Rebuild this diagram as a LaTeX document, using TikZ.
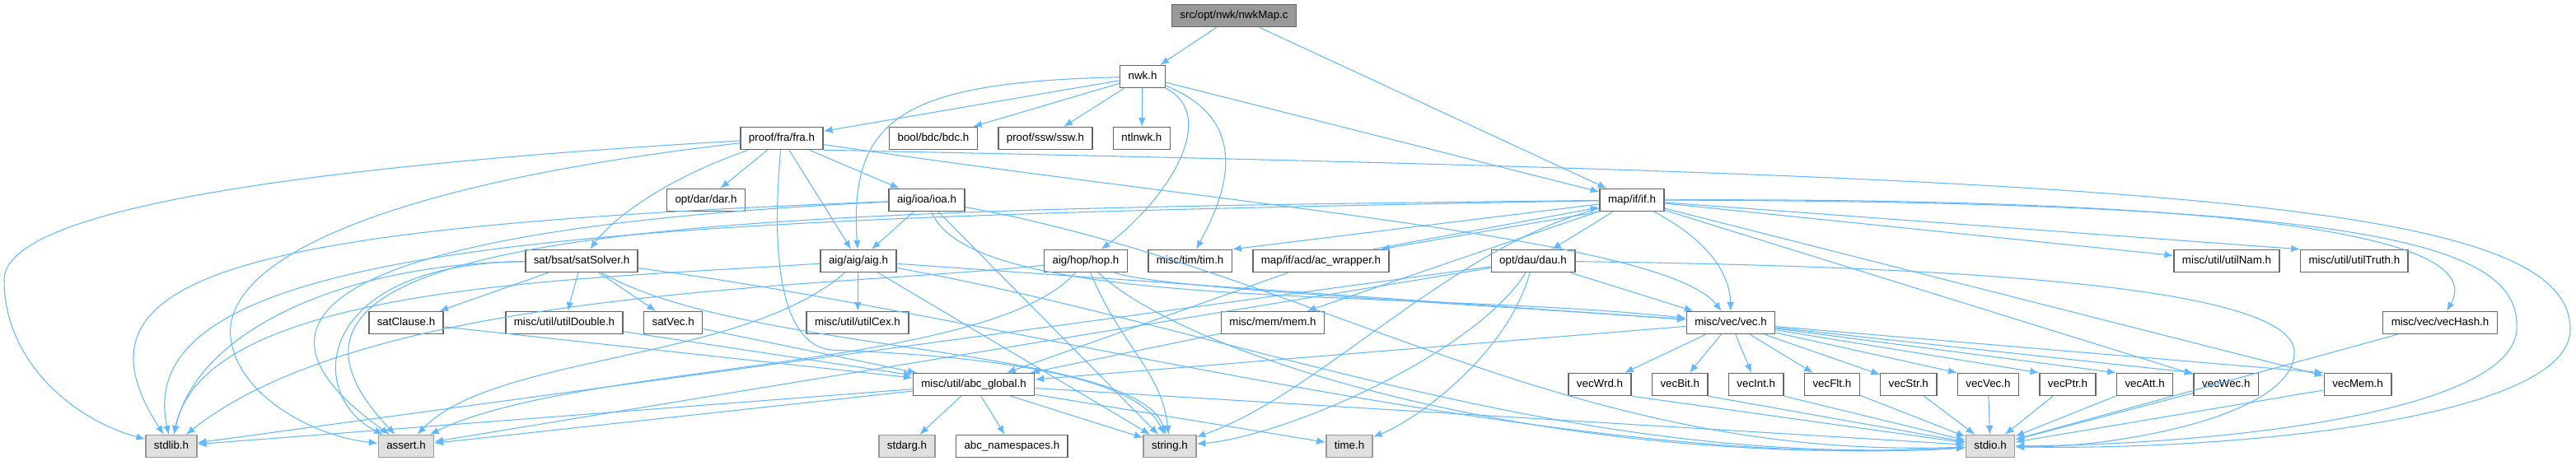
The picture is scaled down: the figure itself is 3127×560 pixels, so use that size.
\documentclass[tikz,border=0pt]{standalone}
\usepackage{xcolor}
\usepackage{fontspec}
\setmainfont{Liberation Sans}
\usepackage{tikz}
\usetikzlibrary{arrows.meta, positioning}
\definecolor{edgeblue}{HTML}{63B8FF}
\definecolor{boxline}{HTML}{666666}
\definecolor{sysline}{HTML}{999999}
\definecolor{sysgray}{HTML}{E0E0E0}
\definecolor{rootgray}{HTML}{999999}
\tikzstyle{file} = [rectangle, draw=boxline, line width=1.1pt, fill=white,
    minimum height=20.25pt, inner xsep=7.5pt, inner ysep=0pt, text height=7pt, text depth=2pt]
\tikzstyle{sysfile} = [file, draw=sysline, fill=sysgray]
\tikzstyle{rootfile} = [file, fill=rootgray]
\tikzstyle{line} = [draw=edgeblue, line width=0.8pt, -{Latex[length=8pt, width=6.5pt]}]

\begin{document}
\begin{tikzpicture}[x=0.75pt, y=-0.75pt, node distance = 18pt]
      \useasboundingbox (0,0) rectangle (3127,560);
      % Files
      \node [rootfile] (nwk-map) at (1498,19) {src/opt/nwk/nwkMap.c};
      \node [file] (nwk) at (1387,93) {nwk.h};
      \node [file] (fra) at (949,168) {proof/fra/fra.h};
      \node [file] (bdc) at (1133,168) {bool/bdc/bdc.h};
      \node [file, right=of bdc] (ssw) {proof/ssw/ssw.h};
      \node [file, right=of ssw] (ntlnwk) {ntlnwk.h};
      \node [file] (dar) at (857,243) {opt/dar/dar.h};
      \node [file] (ioa) at (1125,243) {aig/ioa/ioa.h};
      \node [file] (map-if) at (1981,243) {map/if/if.h};
      \node [file] (sat-solver) at (706,317) {sat/bsat/satSolver.h};
      \node [file] (aig) at (1042,317) {aig/aig/aig.h};
      \node [file] (hop) at (1318,317) {aig/hop/hop.h};
      \node [file, right=of hop] (tim) {misc/tim/tim.h};
      \node [file, right=of tim] (ac-wrapper) {map/if/acd/ac\_wrapper.h};
      \node [file] (dau) at (1861,317) {opt/dau/dau.h};
      \node [file] (util-nam) at (2703,317) {misc/util/utilNam.h};
      \node [file, right=of util-nam] (util-truth) {misc/util/utilTruth.h};
      \node [file] (sat-clause) at (493,392) {satClause.h};
      \node [file] (util-double) at (685,392) {misc/util/utilDouble.h};
      \node [file, right=of util-double] (sat-vec) {satVec.h};
      \node [file] (util-cex) at (1041,392) {misc/util/utilCex.h};
      \node [file] (mem) at (1545,392) {misc/mem/mem.h};
      \node [file] (vec) at (2101,392) {misc/vec/vec.h};
      \node [file] (vec-hash) at (2962,392) {misc/vec/vecHash.h};
      \node [file] (abc-global) at (1182,467) {misc/util/abc\_global.h};
      \node [file] (vec-wrd) at (1942,467) {vecWrd.h};
      \node [file, right=of vec-wrd] (vec-bit) {vecBit.h};
      \node [file, right=of vec-bit] (vec-int) {vecInt.h};
      \node [file, right=of vec-int] (vec-flt) {vecFlt.h};
      \node [file, right=of vec-flt] (vec-str) {vecStr.h};
      \node [file, right=of vec-str] (vec-vec) {vecVec.h};
      \node [file, right=of vec-vec] (vec-ptr) {vecPtr.h};
      \node [file, right=of vec-ptr] (vec-att) {vecAtt.h};
      \node [file, right=of vec-att] (vec-wec) {vecWec.h};
      \node [file] (vec-mem) at (2862,467) {vecMem.h};
      \node [sysfile] (stdlib) at (208,542) {stdlib.h};
      \node [sysfile] (assert) at (493,542) {assert.h};
      \node [sysfile] (stdarg) at (1101,542) {stdarg.h};
      \node [file, right=of stdarg] (abc-namespaces) {abc\_namespaces.h};
      \node [sysfile] (string) at (1420,542) {string.h};
      \node [sysfile] (time) at (1638,542) {time.h};
      \node [sysfile] (stdio) at (2416,542) {stdio.h};
      % Draw edges
      \path [line] (nwk-map) -- (nwk);
      \path [line] (nwk-map) -- (map-if);
      \path [line] (nwk) -- (fra);
      \path [line] (nwk) -- (bdc);
      \path [line] (nwk) -- (ssw);
      \path [line] (nwk) -- (ntlnwk);
      \path [line] (nwk) -- (map-if);
      \path [line] (nwk) .. controls (1100,100) and (1030,140) .. (aig);
      \path [line] (nwk) .. controls (1480,140) and (1420,240) .. (hop);
      \path [line] (nwk) .. controls (1530,150) and (1480,250) .. (tim);
      % fra.h
      \path [line] (fra) .. controls (400,200) and (5,250) .. (5,340) .. controls (5,440) and (90,510) .. (stdlib);
      \path [line] (fra) .. controls (450,225) and (270,320) .. (280,410) .. controls (288,480) and (380,530) .. (assert);
      \path [line] (fra) .. controls (800,220) and (740,270) .. (sat-solver);
      \path [line] (fra) -- (dar);
      \path [line] (fra) .. controls (935,320) and (950,420) .. (1010,425) .. controls (1060,428) and (1370,435) .. (string);
      \path [line] (fra) -- (aig);
      \path [line] (fra) -- (ioa);
      \path [line] (fra) .. controls (1500,250) and (2020,290) .. (vec);
      \path [line] (fra.south east) .. controls (2600,215) and (3120,240) .. (3120,400) .. controls (3120,510) and (2700,548) .. (stdio);
      % ioa.h
      \path [line] (ioa) -- (aig);
      \path [line] (ioa) .. controls (300,275) and (70,330) .. (stdlib);
      \path [line] (ioa) .. controls (450,275) and (250,370) .. (assert);
      \path [line] (ioa) -- (string);
      \path [line] (ioa) .. controls (1180,380) and (1700,350) .. (vec);
      \path [line] (ioa) .. controls (1600,330) and (1900,560) .. (stdio);
      % aig.h
      \path [line] (aig) -- (util-cex);
      \path [line] (aig) -- (vec);
      \path [line] (aig) .. controls (700,340) and (250,345) .. (stdlib);
      \path [line] (aig) .. controls (900,440) and (600,430) .. (assert);
      \path [line] (aig) -- (string);
      \path [line] (aig) .. controls (1500,400) and (1900,570) .. (stdio);
      % hop.h
      \path [line] (hop) .. controls (1400,350) and (1800,370) .. (vec);
      \path [line] (hop) .. controls (1000,350) and (450,350) .. (stdlib);
      \path [line] (hop) .. controls (1200,450) and (700,440) .. (assert);
      \path [line] (hop) .. controls (1360,420) and (1410,450) .. (string);
      \path [line] (hop) .. controls (1450,440) and (1900,570) .. (stdio);
      % satSolver.h
      \path [line] (sat-solver) -- (sat-clause);
      \path [line] (sat-solver) -- (util-double);
      \path [line] (sat-solver) -- (sat-vec);
      \path [line] (sat-solver) .. controls (420,320) and (240,400) .. (stdlib);
      \path [line] (sat-solver) .. controls (380,320) and (370,480) .. (assert);
      \path [line] (sat-solver) .. controls (900,430) and (1380,420) .. (string);
      \path [line] (sat-solver) .. controls (1200,380) and (1900,575) .. (stdio);
      \path [line] (sat-clause) -- (abc-global);
      \path [line] (util-double) -- (abc-global);
      \path [line] (sat-vec) -- (abc-global);
      % dau.h
      \path [line] (dau) -- (vec);
      \path [line] (dau) -- (stdlib);
      \path [line] (dau) -- (assert);
      \path [line] (dau) .. controls (1790,430) and (1560,530) .. (string);
      \path [line] (dau) .. controls (1830,430) and (1720,510) .. (time);
      \path [line] (dau) .. controls (2500,325) and (2790,360) .. (2785,430) .. controls (2780,510) and (2550,545) .. (stdio);
      % ac_wrapper.h, mem.h
      \path [line] (ac-wrapper) -- (abc-global);
      \path [line] ([xshift=-15pt]ac-wrapper.north east) -- ([yshift=4pt]map-if.south west);
      \path [line] (mem) -- (abc-global);
      % if.h
      \path [line] (map-if) -- (tim.north east);
      \path [line] (map-if.south west) -- ([xshift=-8pt]ac-wrapper.north east);
      \path [line] (map-if) -- (dau);
      \path [line] (map-if) -- (mem);
      \path [line] (map-if) .. controls (2070,290) and (2100,330) .. (vec);
      \path [line] (map-if) -- (util-nam);
      \path [line] (map-if) -- (util-truth.north west);
      \path [line] (map-if) .. controls (2750,240) and (3020,290) .. (vec-hash);
      \path [line] (map-if) -- (vec-mem);
      \path [line] (map-if) -- (vec-wec);
      \path [line] (map-if) .. controls (2900,245) and (3060,300) .. (3055,400) .. controls (3050,500) and (2700,540) .. (stdio);
      \path [line] (map-if) .. controls (1760,300) and (1600,480) .. (string);
      \path [line] (map-if) .. controls (800,265) and (150,280) .. (stdlib);
      \path [line] (map-if) .. controls (900,255) and (230,265) .. (assert);
      % vec.h
      \path [line] (vec) -- (abc-global);
      \path [line] (vec) -- (vec-wrd);
      \path [line] (vec) -- (vec-bit);
      \path [line] (vec) -- (vec-int);
      \path [line] (vec) -- (vec-flt);
      \path [line] (vec) -- (vec-str);
      \path [line] (vec) -- (vec-vec.north west);
      \path [line] (vec) -- (vec-ptr.north west);
      \path [line] (vec) -- (vec-att.north west);
      \path [line] (vec) -- (vec-wec.north west);
      \path [line] (vec) -- (vec-mem.north west);
      \path [line] (vec-wrd.south east) -- (stdio);
      \path [line] (vec-bit.south east) -- (stdio);
      \path [line] (vec-int.south east) -- (stdio);
      \path [line] (vec-flt) -- (stdio);
      \path [line] (vec-str) -- (stdio);
      \path [line] (vec-vec) -- (stdio);
      \path [line] (vec-ptr) -- (stdio);
      \path [line] (vec-att) -- (stdio);
      \path [line] (vec-wec) -- (stdio);
      \path [line] (vec-mem) -- (stdio);
      \path [line] (vec-hash) -- (stdio);
      % abc_global.h
      \path [line] (abc-global) -- (stdlib);
      \path [line] (abc-global) -- (assert);
      \path [line] (abc-global) -- (stdarg);
      \path [line] (abc-global) -- (abc-namespaces);
      \path [line] (abc-global) -- (string);
      \path [line] (abc-global) -- (time);
      \path [line] (abc-global) -- (stdio);
    \end{tikzpicture}
\end{document}
